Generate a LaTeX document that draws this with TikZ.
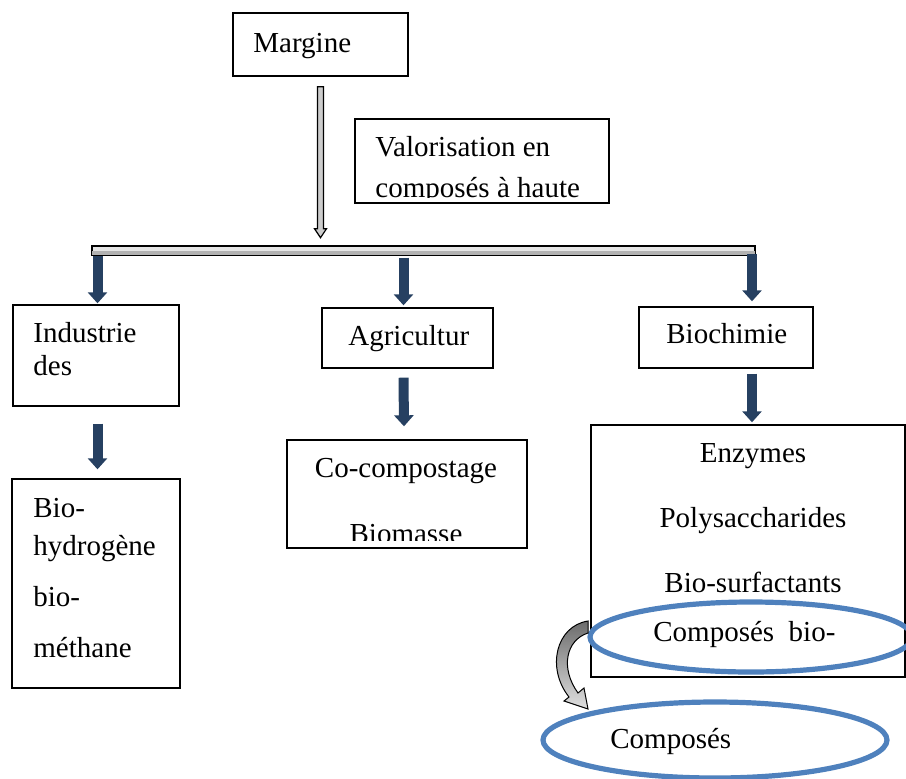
\documentclass[tikz,border=0pt]{standalone}
\usepackage{fontspec}
\setmainfont{Liberation Serif}
\usetikzlibrary{calc, arrows.meta, shapes.geometric, positioning}
\tikzset{
    boxnode/.style = {draw, rectangle, fill=none, line width=0.7pt, inner sep=0em},
    textnode/.style = {draw=none, fill=none, rectangle, inner sep=0em, anchor=base west, 
      font=\fontsize{14.5}{17}\selectfont},
    ctextnode/.style = {textnode, anchor=base},
    ellipsenode/.style = {draw=ellblue, ellipse, line width=2.6pt, inner sep=0em},
    bararrow/.style = {draw=black, line width=0.7pt},
    blockarrow/.style = {draw=arrowblue, line width=5pt, -{Triangle[width=9.5pt, length=5.5pt]}},
    hollowarrow/.style = {draw=black, fill=gray!40, line width=0.6pt}
}
\definecolor{arrowblue}{RGB}{38, 64, 97}
\definecolor{ellblue}{RGB}{79, 129, 189}

\begin{document}
\begin{tikzpicture}[x=0.5pt, y=-0.5pt]
\clip (0,0) rectangle (906,778);

\node [boxnode, name=margine, minimum width=87.5pt, minimum height=31.5pt] at (320.5,44.5) {};
\node [textnode, name=marginetxt] at (253,52) {Margine};

\node [boxnode, name=valor, minimum width=127pt, minimum height=42pt] at (482,161) {};
\node [textnode, name=valortxt] at (375,156) {Valorisation en};
\begin{scope}
\clip (valor.north west) rectangle ([yshift=3pt]valor.south east);
\node [textnode, name=valortxtb] at (375,197) {composés à haute};
\end{scope}

\node [bararrow, name=bar, rectangle, fill=gray!20, inner sep=0em, minimum width=331.5pt, minimum height=4.5pt] at (423.5,250.5) {};
\fill [gray!60] ([xshift=0.35pt]bar.west) rectangle ([xshift=-0.35pt, yshift=0.35pt]bar.south east);

\coordinate (ha) at ([yshift=-5pt]margine.south);
\draw [hollowarrow, shift={(ha)}] (-3,0) -- (3,0) -- (3,142) -- (6,142) -- (0,151) -- (-6,142) -- (-3,142) -- cycle;

\node [boxnode, name=indus, minimum width=83pt, minimum height=50.5pt] at (96,355.5) {};
\node [textnode, name=industxt] at (33,342) {Industrie};
\node [textnode, name=industxtb] at (33,375) {des};

\node [boxnode, name=agri, minimum width=85.5pt, minimum height=30pt] at (407.5,338) {};
\node [textnode, name=agritxt] at (348,345) {Agricultur};

\node [boxnode, name=biochim, minimum width=87pt, minimum height=30.5pt] at (726,337.5) {};
\node [textnode, name=biochimtxt] at (666,343) {Biochimie};

\draw [blockarrow] ([xshift=0.75pt]bar.south -| indus.north) -- ([yshift=0.5pt, xshift=0.75pt]indus.north);
\draw [blockarrow] ([xshift=-2pt, yshift=-1pt]bar.south -| agri.north) -- ([xshift=-2pt, yshift=1pt]agri.north);
\draw [blockarrow] ([xshift=13pt, yshift=1pt]bar.south -| biochim.north) -- ([xshift=13pt, yshift=2.5pt]biochim.north);

\node [boxnode, name=biobox, minimum width=84pt, minimum height=104.5pt] at (96,583.5) {};
\node [textnode, name=biotxta] at (33,517) {Bio-};
\node [textnode, name=biotxtb] at (33,555) {hydrogène};
\node [textnode, name=biotxtc] at (33,606) {bio-};
\node [textnode, name=biotxtd] at (33,657) {méthane};

\node [boxnode, name=compost, minimum width=120pt, minimum height=54pt] at (407,494) {};
\node [ctextnode, name=composttxt] at (406,477) {Co-compostage};
\begin{scope}
\clip (compost.north west) rectangle ([yshift=4pt]compost.south east);
\node [ctextnode, name=composttxtb] at (406,543) {Biomasse};
\end{scope}

\node [boxnode, name=enzymes, minimum width=157pt, minimum height=126pt] at (748,551) {};
\node [ctextnode, name=enzymestxt] at (753,462) {Enzymes};
\node [ctextnode, name=polytxt] at (753,527) {Polysaccharides};
\node [ctextnode, name=surftxt] at (753,592) {Bio-surfactants};

\draw [blockarrow] ([xshift=0.75pt, yshift=-8.5pt]indus.south) -- ([xshift=0.75pt, yshift=4.5pt]biobox.north);
\draw [blockarrow] ([xshift=-2pt, yshift=-4.5pt]agri.south) -- ([xshift=-1.5pt, yshift=6.5pt]compost.north);
\draw [blockarrow] ([xshift=13pt, yshift=-2.5pt]biochim.south) -- ([xshift=2pt, yshift=1pt]enzymes.north);

\node [ellipsenode, name=ell1, minimum width=161pt, minimum height=35pt] at (751,637) {};
\node [textnode, name=ell1txt] at (653,641) {Composés\ \ bio-};

\node [ellipsenode, name=ell2, minimum width=172pt, minimum height=38pt] at (715,740) {};
\node [textnode, name=ell2txt] at (610,748) {Composés};

\shadedraw [top color=gray!85!black, bottom color=gray!25, draw=black, line width=0.5pt] 
    (588,621) .. controls (556,626) and (546,668) .. (569,697) -- (564,701) -- (588,709) 
    -- (584,688) -- (578,693) .. controls (560,668) and (566,640) .. (588,633) -- cycle;
\end{tikzpicture}
\end{document}
